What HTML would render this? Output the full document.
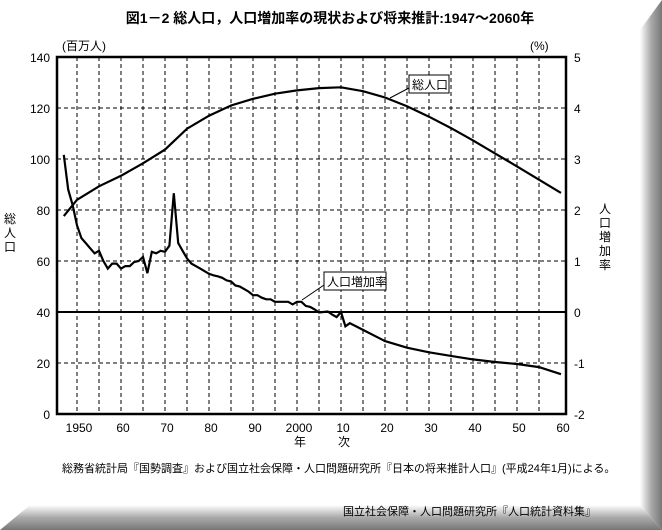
<!DOCTYPE html>
<html><head><meta charset="utf-8"><style>
html,body{margin:0;padding:0;background:#fff;}
svg{display:block;font-family:"Liberation Sans","Noto Sans CJK JP",sans-serif;}
</style></head><body>
<svg id="s" width="662" height="530" viewBox="0 0 662 530" xmlns="http://www.w3.org/2000/svg">
<defs>
<linearGradient id="gr" x1="0" x2="1" y1="0" y2="0"><stop offset="0" stop-color="#fff"/><stop offset="0.5" stop-color="#aaa"/><stop offset="1" stop-color="#777"/></linearGradient>
<linearGradient id="gb" x1="0" x2="0" y1="0" y2="1"><stop offset="0" stop-color="#fff"/><stop offset="0.5" stop-color="#aaa"/><stop offset="1" stop-color="#777"/></linearGradient>
</defs>
<rect width="662" height="530" fill="#fff"/>
<polygon points="640,30 662,0 662,530 640,505" fill="url(#gr)"/>
<polygon points="30,505 640,505 662,530 0,530" fill="url(#gb)"/>
<text x="330" y="23" font-size="14" font-weight="bold" text-anchor="middle">図1－2 総人口，人口増加率の現状および将来推計:1947～2060年</text>
<g id="grid" stroke="#000" stroke-width="1" stroke-dasharray="4,3"></g>
<line x1="57" y1="312" x2="566" y2="312" stroke="#000" stroke-width="2"/>
<rect x="57" y="57" width="509" height="357" fill="none" stroke="#000" stroke-width="2.5"/>
<g id="ticks" font-size="12" fill="#000"></g>
<text x="62" y="50" font-size="12">(百万人)</text>
<text x="530" y="50" font-size="12">(%)</text>
<g font-size="12" text-anchor="middle">
<text x="10" y="223">総</text><text x="10" y="237">人</text><text x="10" y="251">口</text>
<text x="605" y="213">人</text><text x="605" y="227">口</text><text x="605" y="241">増</text><text x="605" y="255">加</text><text x="605" y="269">率</text>
<text x="300" y="446">年</text><text x="344" y="446">次</text>
</g>
<path id="pop" fill="none" stroke="#000" stroke-width="2.2"/>
<path id="gro" fill="none" stroke="#000" stroke-width="2.2"/>
<line x1="409" y1="88" x2="390" y2="98" stroke="#000"/>
<rect x="409" y="75" width="40" height="18" fill="#fff" stroke="#000"/>
<text x="412" y="89" font-size="12">総人口</text>
<line x1="324" y1="285" x2="302" y2="300" stroke="#000"/>
<rect x="324" y="272" width="62" height="18" fill="#fff" stroke="#000"/>
<text x="327" y="286" font-size="12">人口増加率</text>
<text x="62" y="472" font-size="11">総務省統計局『国勢調査』および国立社会保障・人口問題研究所『日本の将来推計人口』(平成24年1月)による。</text>
<text x="343" y="515" font-size="11">国立社会保障・人口問題研究所『人口統計資料集』</text>
</svg>
<script>
var NS="http://www.w3.org/2000/svg";
function X(y){return 77+(y-1950)*4.4;}
function YL(v){return 414-v*2.55;}
function YR(v){return 312-v*51;}
var g=document.getElementById('grid'),t=document.getElementById('ticks');
function el(p,tag,a,txt){var e=document.createElementNS(NS,tag);for(var k in a)e.setAttribute(k,a[k]);if(txt)e.textContent=txt;p.appendChild(e);}
for(var yr=1950;yr<=2055;yr+=5)el(g,'line',{x1:X(yr),x2:X(yr),y1:57,y2:414});
for(var v=20;v<=120;v+=20){if(v!=40)el(g,'line',{x1:57,x2:566,y1:YL(v),y2:YL(v)});}
for(var v=0;v<=140;v+=20){el(t,'text',{x:50,y:YL(v)+5,'text-anchor':'end'},String(v));}
for(var v=-2;v<=5;v++){el(t,'text',{x:574,y:YR(v)+5},String(v));}
var lab=["1950","60","70","80","90","2000","10","20","30","40","50","60"];
for(var i=0;i<lab.length;i++)el(t,'text',{x:X(1950+i*10)+2,y:432,'text-anchor':'middle'},lab[i]);
var pop=[[1947,77.6],[1950,84],[1955,89.3],[1960,93.4],[1965,98.3],[1970,103.7],[1975,111.9],[1980,117],[1985,121],[1990,123.6],[1995,125.6],[2000,126.9],[2005,127.8],[2010,128.1],[2015,126.6],[2020,124.1],[2025,120.7],[2030,116.6],[2035,112.1],[2040,107.3],[2045,102.2],[2050,97.1],[2055,91.9],[2060,86.7]];
var gro=[[1947,3.08],[1948,2.4],[1949,2.1],[1950,1.7],[1951,1.45],[1952,1.35],[1953,1.25],[1954,1.15],[1955,1.2],[1956,1.0],[1957,0.85],[1958,0.95],[1959,0.95],[1960,0.85],[1961,0.9],[1962,0.9],[1963,0.98],[1964,1.0],[1965,1.08],[1966,0.76],[1967,1.18],[1968,1.15],[1969,1.2],[1970,1.18],[1971,1.3],[1972,2.33],[1973,1.35],[1974,1.2],[1975,1.05],[1976,0.95],[1977,0.9],[1978,0.85],[1979,0.8],[1980,0.75],[1981,0.72],[1982,0.7],[1983,0.67],[1984,0.62],[1985,0.6],[1986,0.52],[1987,0.5],[1988,0.45],[1989,0.4],[1990,0.33],[1991,0.33],[1992,0.28],[1993,0.25],[1994,0.25],[1995,0.2],[1996,0.2],[1997,0.2],[1998,0.2],[1999,0.15],[2000,0.2],[2001,0.2],[2002,0.12],[2003,0.1],[2004,0.05],[2005,-0.01],[2006,0.0],[2007,0.01],[2008,-0.05],[2009,-0.1],[2010,0.0],[2011,-0.28],[2012,-0.22],[2015,-0.35],[2020,-0.57],[2025,-0.7],[2030,-0.79],[2035,-0.86],[2040,-0.93],[2045,-0.98],[2050,-1.02],[2055,-1.08],[2060,-1.22]];
function path(d,f){return d.map(function(p,i){return (i?'L':'M')+X(p[0]).toFixed(1)+','+f(p[1]).toFixed(1);}).join('');}
document.getElementById('pop').setAttribute('d',path(pop,YL));
document.getElementById('gro').setAttribute('d',path(gro,YR));
</script>
</body></html>
